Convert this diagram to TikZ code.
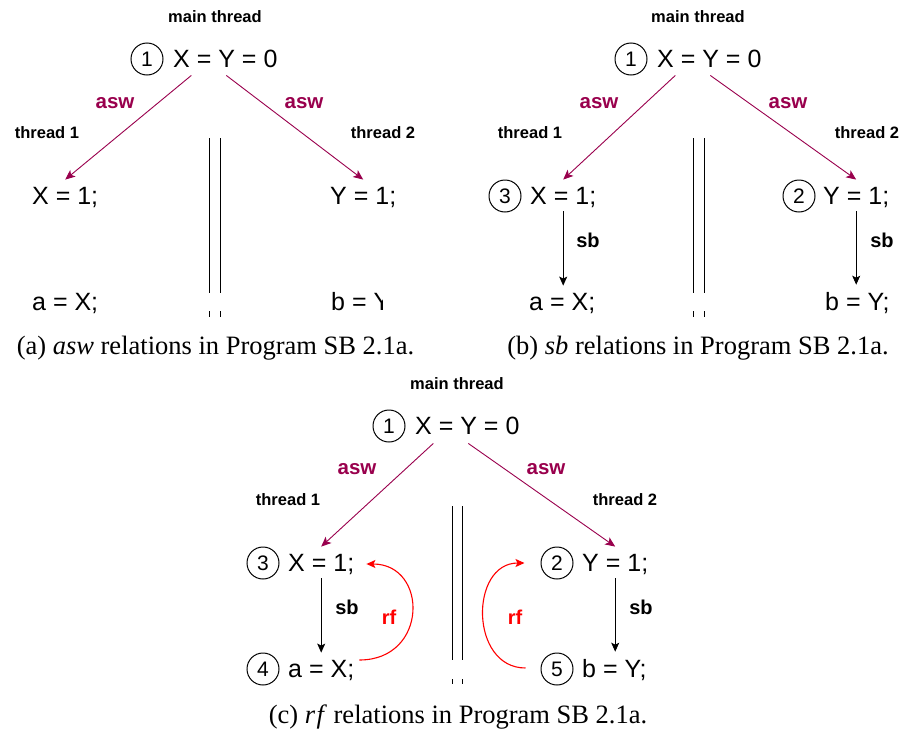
\documentclass[tikz,border=0pt]{standalone}
\usepackage{fontspec}
\setmainfont{Liberation Serif}
\newfontfamily\arialf{Liberation Sans}
\usetikzlibrary{arrows.meta}
\definecolor{aswc}{RGB}{153,0,77}
\definecolor{rfc}{RGB}{255,0,0}
\begin{document}
\begin{tikzpicture}[x=1pt,y=-1pt,
 stmt/.style={anchor=base west, inner sep=0pt, font=\arialf\fontsize{25}{30}\selectfont},
 num/.style={circle, draw, line width=1pt, minimum size=32pt, inner sep=0pt, font=\arialf\fontsize{21}{24}\selectfont},
 thr/.style={inner sep=0pt, font=\arialf\bfseries\fontsize{16.5}{20}\selectfont},
 aswlab/.style={inner sep=0pt, text=aswc, font=\arialf\bfseries\fontsize{20.5}{24}\selectfont},
 sblab/.style={inner sep=0pt, font=\arialf\bfseries\fontsize{20}{24}\selectfont},
 rflab/.style={inner sep=0pt, text=rfc, font=\arialf\bfseries\fontsize{20}{24}\selectfont},
 captxt/.style={inner sep=0pt, font=\fontsize{26.5}{30}\selectfont},
 aswarr/.style={draw=aswc, line width=0.9pt, -{Stealth[length=10pt,width=8.5pt,inset=2.5pt]}},
 sbarr/.style={draw=black, line width=0.9pt, -{Stealth[length=9pt,width=8pt,inset=2pt]}},
 rfarr/.style={draw=rfc, line width=1.1pt, -{Stealth[length=9pt,width=8pt,inset=2pt]}},
 sepline/.style={line width=0.9pt}
]
\useasboundingbox (0,0) rectangle (903,731);

% ---------- panel (a) ----------
\node[thr] (amain) at (215,17) {main thread};
\node[num] (ac1) at (147,59) {1};
\node[stmt] (atop) at (173,67) {X = Y = 0};
\node[aswlab] (aaswl) at (115,103) {asw};
\node[aswlab] (aaswr) at (304,103) {asw};
\node[thr] (at1) at (47,133) {thread 1};
\node[thr] (at2) at (383,133) {thread 2};
\node[stmt] (ax1) at (32,204) {X = 1;};
\node[stmt] (ay1) at (330,204) {Y = 1;};
\node[stmt] (aax) at (32,310) {a = X;};
\begin{scope}
\clip (320,280) rectangle (382,320);
\node[stmt] (aby) at (331,310) {b = Y;};
\end{scope}
\draw[aswarr] ([shift={(-34,8)}]atop.south) -- ([shift={(0,-7)}]ax1.north);
\draw[aswarr] ([shift={(1,8)}]atop.south) -- ([shift={(0,-7)}]ay1.north);
\draw[sepline] (209.5,138) -- (209.5,293) (220.5,138) -- (220.5,293);
\draw[sepline] (209.5,311) -- (209.5,317) (220.5,311) -- (220.5,317);
\node[captxt] (capa) at (215.5,348) {(a) \textit{asw} relations in Program SB 2.1a.};

% ---------- panel (b) ----------
\node[thr] (bmain) at (698,17) {main thread};
\node[num] (bc1) at (631,59) {1};
\node[stmt] (btop) at (657,67) {X = Y = 0};
\node[aswlab] (baswl) at (599,103) {asw};
\node[aswlab] (baswr) at (788,103) {asw};
\node[thr] (bt1) at (530,133) {thread 1};
\node[thr] (bt2) at (867,133) {thread 2};
\node[num] (bc3) at (505,196) {3};
\node[stmt] (bx1) at (530,204) {X = 1;};
\node[num] (bc2) at (799,196) {2};
\node[stmt] (by1) at (823,204) {Y = 1;};
\node[stmt] (bax) at (529,310) {a = X;};
\node[stmt] (bby) at (825,310) {b = Y;};
\draw[aswarr] ([shift={(-34,8)}]btop.south) -- ([shift={(0,-7)}]bx1.north);
\draw[aswarr] ([shift={(1,8)}]btop.south) -- ([shift={(0,-7)}]by1.north);
\draw[sbarr] ([shift={(0,4)}]bx1.south) -- ([shift={(0,-7)}]bx1.south |- bax.north);
\draw[sbarr] ([shift={(0,4)}]by1.south) -- ([shift={(0,-7)}]by1.south |- bby.north);
\node[sblab] (bsbl) at (588,240) {sb};
\node[sblab] (bsbr) at (882,240) {sb};
\draw[sepline] (693.3,138) -- (693.3,293) (704,138) -- (704,293);
\draw[sepline] (693.3,311) -- (693.3,317) (704,311) -- (704,317);
\node[captxt] (capb) at (698,348) {(b) \textit{sb} relations in Program SB 2.1a.};

% ---------- panel (c) ----------
\node[thr] (cmain) at (457,384) {main thread};
\node[num] (cc1) at (389,426) {1};
\node[stmt] (ctop) at (415,434) {X = Y = 0};
\node[aswlab] (caswl) at (357,469) {asw};
\node[aswlab] (caswr) at (546,469) {asw};
\node[thr] (ct1) at (288,500) {thread 1};
\node[thr] (ct2) at (625,500) {thread 2};
\node[num] (cc3) at (263,563) {3};
\node[stmt] (cx1) at (288,571) {X = 1;};
\node[num] (cc2) at (557,563) {2};
\node[stmt] (cy1) at (582,571) {Y = 1;};
\node[num] (cc4) at (263,669) {4};
\node[stmt] (cax) at (288,677) {a = X;};
\node[num] (cc5) at (557,669) {5};
\node[stmt] (cby) at (582,677) {b = Y;};
\draw[aswarr] ([shift={(-34,9)}]ctop.south) -- ([shift={(0,-7)}]cx1.north);
\draw[aswarr] ([shift={(1,9)}]ctop.south) -- ([shift={(0,-7)}]cy1.north);
\draw[sbarr] ([shift={(0,4)}]cx1.south) -- ([shift={(0,-7)}]cx1.south |- cax.north);
\draw[sbarr] ([shift={(0,4)}]cy1.south) -- ([shift={(0,-7)}]cy1.south |- cby.north);
\node[sblab] (csbl) at (347,607) {sb};
\node[sblab] (csbr) at (641,607) {sb};
\draw[rfarr] ([shift={(5,-10)}]cax.east) .. controls +(69,0) and +(62,0) .. ([shift={(12,0)}]cx1.east);
\draw[rfarr] ([shift={(-15,-1)}]cc5.west) .. controls +(-56,0) and +(-55,0) .. ([shift={(-16,0)}]cc2.west);
\node[rflab] (crfl) at (389,617) {rf};
\node[rflab] (crfr) at (515,617) {rf};
\draw[sepline] (452,506) -- (452,660) (462,506) -- (462,660);
\draw[sepline] (452,679) -- (452,684) (462,679) -- (462,684);
\node[captxt] (capc) at (458,717) {(c) \textit{r\kern1.5pt f} relations in Program SB 2.1a.};
\end{tikzpicture}
\end{document}
